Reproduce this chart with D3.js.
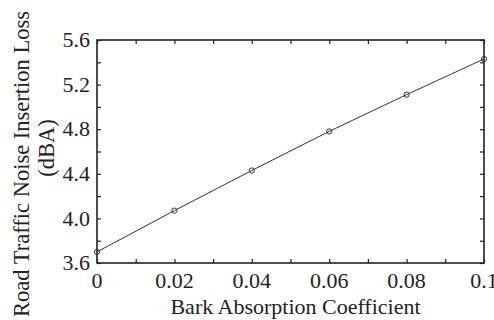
<!DOCTYPE html>
<html>
<head>
<meta charset="utf-8">
<script src="https://cdn.jsdelivr.net/npm/d3@7"></script>
<style>
  body { margin: 0; background: #fff; }
  svg text { font-family: "Liberation Serif", "Times New Roman", serif; fill: #222; }
</style>
</head>
<body>
<svg id="chart" width="494" height="320"></svg>
<script>
'use strict';

// bark absorption coefficient (x) vs insertion loss (dBA)
var absorption = [0, 0.02, 0.04, 0.06, 0.08, 0.1];
var insertionLoss = [3.70, 4.07, 4.43, 4.78, 5.11, 5.43];
var xTickValues = [0, 0.02, 0.04, 0.06, 0.08, 0.1];
var xTickLabels = ['0', '0.02', '0.04', '0.06', '0.08', '0.1'];
var yTickValues = [3.6, 4.0, 4.4, 4.8, 5.2, 5.6];
var yTickLabels = ['3.6', '4.0', '4.4', '4.8', '5.2', '5.6'];

var margin = {top: 40, right: 10, bottom: 57, left: 97},
    width = 494 - margin.left - margin.right,
    height = 320 - margin.top - margin.bottom;

var svg = d3.select('#chart');
var g = svg.append('g')
    .attr('transform', 'translate(' + margin.left + ',' + margin.top + ')');

var x = d3.scaleLinear().domain([0, 0.1]).range([0, width]);
var y = d3.scaleLinear().domain([3.6, 5.6]).range([height, 0]);

// minor ticks every 0.01 / 0.2, pointing inwards on all four sides
var xMinor = d3.range(0, 11).map(function (i) { return i / 100; });
var yMinor = d3.range(0, 11).map(function (i) { return 3.6 + i * 0.2; });
var tickLen = 4;
var fontSize = '22px';

function styleAxis(sel) {
    sel.select('.domain').remove();
    sel.selectAll('line').attr('stroke', '#222').attr('stroke-width', 1.2);
}

g.append('g')
    .attr('transform', 'translate(0,' + height + ')')
    .call(d3.axisBottom(x).tickValues(xMinor).tickSize(-tickLen).tickFormat(''))
    .call(styleAxis);
g.append('g')
    .call(d3.axisTop(x).tickValues(xMinor).tickSize(-tickLen).tickFormat(''))
    .call(styleAxis);
g.append('g')
    .call(d3.axisLeft(y).tickValues(yMinor).tickSize(-tickLen).tickFormat(''))
    .call(styleAxis);
g.append('g')
    .attr('transform', 'translate(' + width + ',0)')
    .call(d3.axisRight(y).tickValues(yMinor).tickSize(-tickLen).tickFormat(''))
    .call(styleAxis);

// frame
g.append('rect')
    .attr('width', width)
    .attr('height', height)
    .attr('fill', 'none')
    .attr('stroke', '#222')
    .attr('stroke-width', 1.6);

// tick labels
g.selectAll('.xlabel')
    .data(xTickValues)
    .enter().append('text')
    .attr('class', 'xlabel')
    .attr('x', function (d) { return x(d); })
    .attr('y', height + 25)
    .attr('text-anchor', 'middle')
    .style('font-size', fontSize)
    .text(function (d, i) { return xTickLabels[i]; });

g.selectAll('.ylabel')
    .data(yTickValues)
    .enter().append('text')
    .attr('class', 'ylabel')
    .attr('x', -7)
    .attr('y', function (d) { return y(d); })
    .attr('dy', '0.33em')
    .attr('text-anchor', 'end')
    .style('font-size', fontSize)
    .text(function (d, i) { return yTickLabels[i]; });

// axis titles
svg.append('text')
    .attr('x', margin.left + width / 2 + 5)
    .attr('y', 314)
    .attr('text-anchor', 'middle')
    .style('font-size', fontSize)
    .text('Bark Absorption Coefficient');

svg.append('text')
    .attr('transform', 'translate(29,164) rotate(-90)')
    .attr('text-anchor', 'middle')
    .style('font-size', '22.5px')
    .text('Road Traffic Noise Insertion Loss');
svg.append('text')
    .attr('transform', 'translate(54,148) rotate(-90)')
    .attr('text-anchor', 'middle')
    .style('font-size', '22.5px')
    .text('(dBA)');

// series
var line = d3.line()
    .x(function (d, i) { return x(absorption[i]); })
    .y(function (d) { return y(d); });

g.append('path')
    .datum(insertionLoss)
    .attr('d', line)
    .attr('fill', 'none')
    .attr('stroke', '#333')
    .attr('stroke-width', 1);

g.selectAll('.pt')
    .data(insertionLoss)
    .enter().append('circle')
    .attr('class', 'pt')
    .attr('cx', function (d, i) { return x(absorption[i]); })
    .attr('cy', function (d) { return y(d); })
    .attr('r', 2.6)
    .attr('fill', 'none')
    .attr('stroke', '#333')
    .attr('stroke-width', 1);
</script>
</body>
</html>
